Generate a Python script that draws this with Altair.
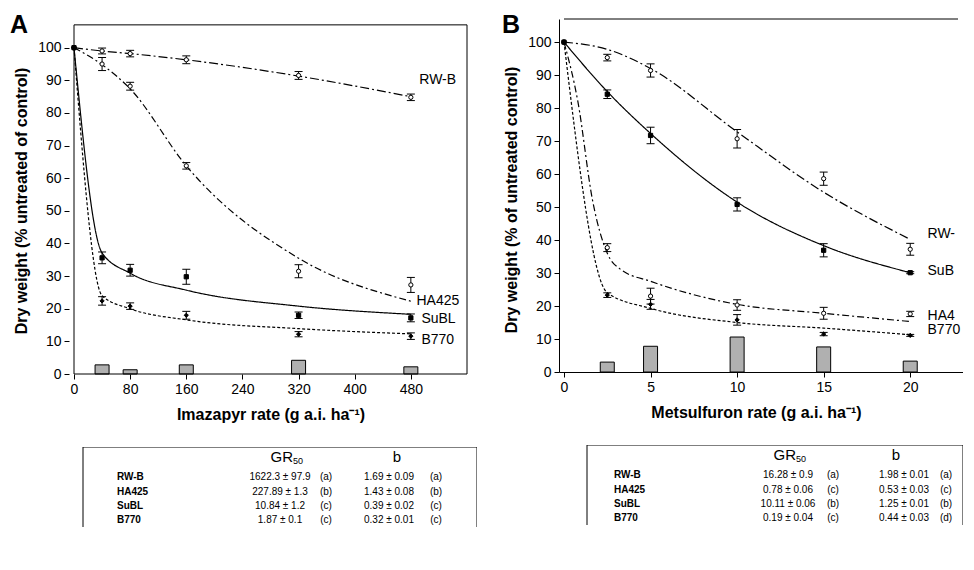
import altair as alt
import pandas as pd

FONT = "Liberation Sans"
series = ["RW-B", "HA425", "SuBL", "B770"]

# ---------------- Panel A (Imazapyr) ----------------
a_rates = [0, 40, 80, 160, 320, 480]
a_obs = {
    "RW-B": [100, 99.0, 98.2, 96.3, 91.5, 84.8],
    "HA425": [100, 95.0, 88.2, 63.8, 31.5, 27.3],
    "SuBL": [100, 35.6, 31.8, 29.8, 18.0, 17.2],
    "B770": [100, 22.4, 20.8, 18.0, 12.2, 11.6],
}
a_err = {
    "RW-B": [0, 0.9, 1.0, 1.2, 1.2, 1.0],
    "HA425": [0, 2.0, 1.2, 1.0, 2.0, 2.3],
    "SuBL": [0, 1.8, 1.8, 2.3, 1.0, 1.2],
    "B770": [0, 1.3, 1.0, 1.2, 0.8, 1.0],
}
a_fit_x = {
    "RW-B": [0, 40, 80, 160, 320, 480],
    "HA425": [0, 40, 80, 160, 320, 480],
    "SuBL": [0, 40, 80, 160, 320, 480],
    "B770": [0, 40, 80, 160, 320, 480],
}
a_fit_y = {
    "RW-B": [100, 99.0, 98.2, 96.3, 91.3, 85.0],
    "HA425": [100, 94.8, 87.4, 63.8, 35.5, 22.3],
    "SuBL": [100, 37.1, 30.9, 25.7, 20.8, 18.3],
    "B770": [100, 24.0, 20.0, 16.6, 13.9, 12.3],
}
a_bar_x = [40, 80, 160, 320, 480]
a_bar_y = [2.8, 1.3, 2.8, 4.2, 2.2]
a_lab_x = [492, 488, 495, 495]
a_lab_y = [90.0, 22.4, 16.8, 10.4]
a_dash = [[9, 3, 2, 3], [7, 3, 2, 3], [1, 0], [3, 2]]
a_shape = ["circle", "circle", "square", "diamond"]
a_fill = ["white", "white", "black", "black"]

# ---------------- Panel B (Metsulfuron) ----------------
b_rates = [0, 2.5, 5, 10, 15, 20]
b_obs = {
    "RW-B": [100, 95.3, 91.4, 70.7, 58.6, 37.2],
    "HA425": [100, 37.7, 23.0, 20.3, 17.8, 17.6],
    "SuBL": [100, 84.2, 71.7, 50.8, 36.9, 30.1],
    "B770": [100, 23.3, 20.5, 15.8, 11.5, 11.1],
}
b_err = {
    "RW-B": [0, 1.0, 2.0, 2.8, 2.0, 1.8],
    "HA425": [0, 1.2, 2.4, 1.6, 1.8, 0.8],
    "SuBL": [0, 1.3, 2.5, 2.0, 2.0, 0.3],
    "B770": [0, 0.7, 1.5, 1.6, 0.5, 0.3],
}
b_fit_x = {
    "RW-B": [0, 2.5, 5, 10, 15, 20],
    "HA425": [0, 0.8, 1.65, 2.5, 3.3, 5, 10, 15, 20],
    "SuBL": [0, 2.5, 5, 10, 15, 20],
    "B770": [0, 2.5, 5, 10, 15, 20],
}
b_fit_y = {
    "RW-B": [100, 97.8, 92.0, 72.8, 54.5, 40.2],
    "HA425": [100, 82, 52, 36, 31, 27.5, 20.5, 17.8, 15.3],
    "SuBL": [100, 85.0, 72.3, 51.5, 38.3, 30.1],
    "B770": [100, 24.0, 19.3, 15.0, 13.3, 11.3],
}
b_bar_x = [2.5, 5, 10, 15, 20]
b_bar_y = [3.0, 7.8, 10.6, 7.6, 3.3]
b_lab_x = [21.0, 21.0, 21.0, 21.0]
b_lab_y = [41.8, 17.0, 30.6, 12.6]
b_dash = [[7, 3, 2, 3], [8, 4], [1, 0], [3, 2]]
b_shape = ["square", "diamond", "circle", "diamond"]
b_fill = ["white", "black", "black", "white"]

# ---------------- Tables ----------------
ta_gr = ["1622.3 ± 97.9", "227.89 ± 1.3", "10.84 ± 1.2", "1.87 ± 0.1"]
ta_grl = ["(a)", "(b)", "(c)", "(c)"]
ta_b = ["1.69 ± 0.09", "1.43 ± 0.08", "0.39 ± 0.02", "0.32 ± 0.01"]
ta_bl = ["(a)", "(b)", "(c)", "(c)"]
tb_gr = ["16.28 ± 0.9", "0.78 ±  0.06", "10.11 ± 0.06", "0.19 ± 0.04"]
tb_grl = ["(a)", "(c)", "(b)", "(c)"]
tb_b = ["1.98 ± 0.01", "0.53 ± 0.03", "1.25 ± 0.01", "0.44 ± 0.03"]
tb_bl = ["(a)", "(c)", "(b)", "(d)"]

ONE = pd.DataFrame({"k": [0]})


def panel(letter, tag_x, rates, obs, err, fit_x, fit_y, bar_x, bar_y, lab_x, lab_y,
          dashes, shapes, fills, xmax, xticks, frame_x, frame_y, ymax,
          width, height, xtitle, ytitle, closed=True, xtitle_x=None, lab_limit=80):
    xs = alt.Scale(domain=[0, xmax], nice=False, zero=False)
    ys = alt.Scale(domain=[0, ymax], nice=False, zero=False)
    xkw = dict(values=xticks, title=xtitle, grid=False, domain=not closed,
               domainColor="black", tickSize=5,
               tickColor="black", labelFontSize=14, labelColor="black", labelPadding=3,
               titleFontSize=16, titleFontWeight="bold", titleColor="black",
               titlePadding=10, labelFlush=False)
    if xtitle_x is not None:
        xkw["titleX"] = xtitle_x
    xax = alt.Axis(**xkw)
    yax = alt.Axis(values=list(range(0, 101, 10)), title=ytitle, grid=False,
                   domain=not closed, domainColor="black",
                   tickSize=5, tickColor="black", labelFontSize=14, labelColor="black",
                   labelPadding=3, titleFontSize=16, titleFontWeight="bold",
                   titleColor="black", titleX=-48, titleY=height / 2 + 4,
                   titleAlign="center", titleBaseline="middle", titleAngle=270)

    def X(f):
        return alt.X(f, type="quantitative", scale=xs, axis=xax)

    def Y(f):
        return alt.Y(f, type="quantitative", scale=ys, axis=yax)

    obs_rows, fit_rows = [], []
    for s in series:
        for x, y, e in zip(rates, obs[s], err[s]):
            obs_rows.append({"s": s, "x": x, "y": y, "lo": y - e, "hi": y + e, "e": e})
        for x, y in zip(fit_x[s], fit_y[s]):
            fit_rows.append({"s": s, "x": x, "y": y})
    odf = pd.DataFrame(obs_rows)
    edf = odf[odf["e"] > 0]
    fdf = pd.DataFrame(fit_rows)
    bdf = pd.DataFrame({"x": bar_x, "y": bar_y})
    ldf = pd.DataFrame({"s": series, "x": lab_x, "y": lab_y})

    bars = alt.Chart(bdf).mark_bar(size=14, fill="#b0b0b0", stroke="black",
                                   strokeWidth=1).encode(x=X("x"), y=Y("y"))
    if closed:
        frame = alt.Chart(ONE).mark_rect(filled=False, color="black", strokeWidth=1).encode(
            x=alt.X(datum=0, type="quantitative", scale=xs, axis=xax),
            x2=alt.datum(frame_x),
            y=alt.Y(datum=0, type="quantitative", scale=ys, axis=yax),
            y2=alt.datum(frame_y))
    else:
        frame = alt.Chart(ONE).mark_rule(color="black", strokeWidth=1).encode(
            x=alt.X(datum=0, type="quantitative", scale=xs, axis=xax),
            x2=alt.datum(frame_x),
            y=alt.Y(datum=frame_y, type="quantitative", scale=ys, axis=yax))
    lines = alt.Chart(fdf).mark_line(color="black", strokeWidth=1.2,
                                     interpolate="monotone").encode(
        x=X("x"), y=Y("y"),
        strokeDash=alt.StrokeDash("s:N", scale=alt.Scale(domain=series, range=dashes),
                                  legend=None))
    rules = alt.Chart(edf).mark_rule(color="black", strokeWidth=1).encode(
        x=X("x"), y=Y("lo"), y2="hi")
    cap_lo = alt.Chart(edf).mark_tick(orient="horizontal", size=8, thickness=1,
                                      color="black", opacity=1).encode(x=X("x"), y=Y("lo"))
    cap_hi = alt.Chart(edf).mark_tick(orient="horizontal", size=8, thickness=1,
                                      color="black", opacity=1).encode(x=X("x"), y=Y("hi"))
    pts = alt.Chart(odf).mark_point(filled=True, stroke="black", strokeWidth=1,
                                    size=18, opacity=1).encode(
        x=X("x"), y=Y("y"),
        shape=alt.Shape("s:N", scale=alt.Scale(domain=series, range=shapes), legend=None),
        fill=alt.Fill("s:N", scale=alt.Scale(domain=series, range=fills), legend=None))
    labels = alt.Chart(ldf).mark_text(align="left", baseline="middle", fontSize=14,
                                      color="black", limit=lab_limit, ellipsis=" ").encode(
        x=X("x"), y=Y("y"), text="s:N")
    tag = alt.Chart(ONE).mark_text(text=letter, align="left", baseline="alphabetic",
                                   fontSize=25, fontWeight="bold", color="black").encode(
        x=alt.value(tag_x), y=alt.value(14))
    return alt.layer(bars, frame, lines, rules, cap_lo, cap_hi, pts, labels, tag).properties(
        width=width, height=height)


def table(gr, grl, b, bl, w, h, fx, cols, hdr):
    df = pd.DataFrame({"row": series, "gr": gr, "grl": grl, "b": b, "bl": bl})
    Yr = alt.Y("row:N", scale=alt.Scale(type="point", domain=series, range=[30.3, 73],
                                        padding=0), axis=None)
    frame = alt.Chart(ONE).mark_rect(filled=False, color="black", strokeWidth=1,
                                     clip=True).encode(
        x=alt.value(fx), x2=alt.value(w), y=alt.value(0), y2=alt.value(h + 40))
    layers = [frame]
    names = alt.Chart(df).mark_text(align="left", baseline="middle", fontSize=10,
                                    fontWeight="bold", color="black").encode(
        x=alt.value(cols[0]), y=Yr, text="row:N")
    layers.append(names)
    for field, px in zip(["gr", "grl", "b", "bl"], cols[1:]):
        layers.append(alt.Chart(df).mark_text(align="center", baseline="middle",
                                              fontSize=10, color="black").encode(
            x=alt.value(px), y=Yr, text=f"{field}:N"))
    layers.append(alt.Chart(ONE).mark_text(text="GR", align="right", baseline="middle",
                                           fontSize=15, color="black").encode(
        x=alt.value(hdr[0]), y=alt.value(10)))
    layers.append(alt.Chart(ONE).mark_text(text="50", align="left", baseline="middle",
                                           fontSize=9, dy=4, color="black").encode(
        x=alt.value(hdr[0]), y=alt.value(10)))
    layers.append(alt.Chart(ONE).mark_text(text="b", align="center", baseline="middle",
                                           fontSize=15, color="black").encode(
        x=alt.value(hdr[1]), y=alt.value(10)))
    return alt.layer(*layers).properties(width=w, height=h)


pA = panel("A", -59, a_rates, a_obs, a_err, a_fit_x, a_fit_y, a_bar_x, a_bar_y, a_lab_x,
           a_lab_y, a_dash, a_shape, a_fill, 560, [0, 80, 160, 240, 320, 400, 480], 560,
           107, 108.8, 403, 355, "Imazapyr rate (g a.i. ha⁻¹)",
           "Dry weight (% untreated of control)")
pB = panel("B", -57, b_rates, b_obs, b_err, b_fit_x, b_fit_y, b_bar_x, b_bar_y, b_lab_x,
           b_lab_y, b_dash, b_shape, b_fill, 22.76, [0, 5, 10, 15, 20], 22.76, 107, 107.0,
           404, 353, "Metsulfuron rate (g a.i. ha⁻¹)", "Dry weight (% of untreated control)",
           closed=False, xtitle_x=197, lab_limit=34)

tA = table(ta_gr, ta_grl, ta_b, ta_bl, 408, 80, 14, [48, 211, 257, 320, 367], [224, 328])
tB = table(tb_gr, tb_grl, tb_b, tb_bl, 404, 80, 28, [55, 229, 274, 345, 387], [237, 337])

colA = alt.vconcat(pA, tA, spacing=25)
colB = alt.vconcat(pB, tB, spacing=25)

chart = alt.hconcat(colA, colB, spacing=25).properties(
    padding={"left": 2, "top": 5, "right": 0, "bottom": 0}
).configure(font=FONT).configure_view(strokeWidth=0)

chart.save("out.html", embed_options={"renderer": "svg", "actions": False})
